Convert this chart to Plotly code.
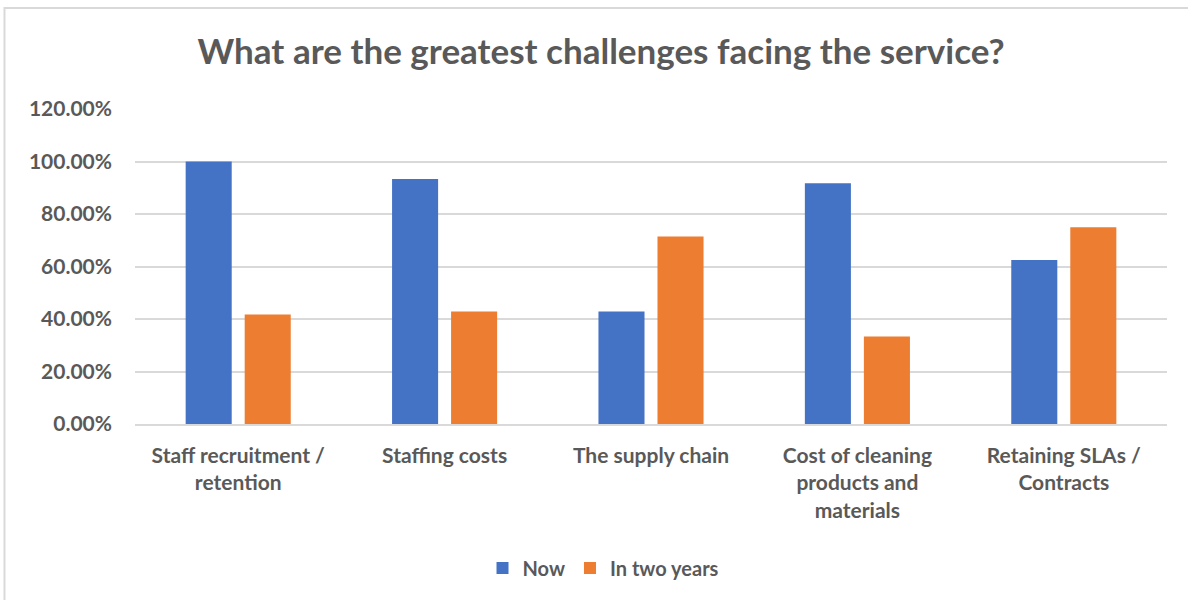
import plotly.graph_objects as go

categories = [
    "Staff recruitment /<br>retention",
    "Staffing costs",
    "The supply chain",
    "Cost of cleaning<br>products and<br>materials",
    "Retaining SLAs /<br>Contracts",
]
now_values = [1.0, 0.9333, 0.4286, 0.9167, 0.625]
two_years_values = [0.4167, 0.4286, 0.7143, 0.3333, 0.75]
y_ticks = [0, 0.2, 0.4, 0.6, 0.8, 1.0, 1.2]
y_tick_text = ["<b>%.2f%%</b>" % (v * 100) for v in y_ticks]
category_text = ["<b>%s</b>" % c.replace("<br>", "</b><br><b>") for c in categories]

FONT = "Lato, 'Open Sans', sans-serif"
GREY = "#595959"

fig = go.Figure()
fig.add_trace(go.Bar(name="<b>Now</b>", x=categories, y=now_values,
                     marker=dict(color="#4472C4", line=dict(width=0))))
fig.add_trace(go.Bar(name="<b>In two years</b>", x=categories, y=two_years_values,
                     marker=dict(color="#ED7D31", line=dict(width=0))))

fig.update_layout(
    width=1188, height=600,
    paper_bgcolor="white", plot_bgcolor="white",
    margin=dict(l=135, r=21, t=109, b=176),
    barmode="group", bargap=0.428, bargroupgap=0.22,
    font=dict(family=FONT, color=GREY),
    title=dict(text="<b>What are the greatest challenges facing the service?</b>",
               x=0.506, xanchor="center", y=1 - 52 / 600, yanchor="middle",
               xref="container", yref="container",
               font=dict(size=35, color=GREY, family=FONT)),
    legend=dict(orientation="h", x=0.508, xanchor="center", xref="container",
                y=1 - 568 / 600, yref="container", yanchor="middle",
                font=dict(size=20, color=GREY, family=FONT),
                itemwidth=30, traceorder="normal"),
    showlegend=True,
)
fig.update_yaxes(range=[0, 1.2], tickvals=y_ticks, ticktext=y_tick_text,
                 showgrid=True, gridcolor="#d9d9d9", gridwidth=1.5,
                 zeroline=False, showline=False, ticks="",
                 ticklabelstandoff=22,
                 tickfont=dict(size=21, color=GREY, family=FONT))
fig.update_xaxes(showline=True, linecolor="#d9d9d9", linewidth=1.5,
                 ticks="", ticklabelstandoff=12,
                 tickmode="array", tickvals=categories, ticktext=category_text,
                 tickfont=dict(size=21, color=GREY, family=FONT))

# chart frame (Excel chart area border)
fig.add_shape(type="rect", xref="paper", yref="paper",
              x0=(4.5 - 135) / 1032, x1=1.06, y0=-1.0, y1=(424 - 8) / 315,
              line=dict(color="#d9d9d9", width=2), fillcolor="rgba(0,0,0,0)",
              layer="below")

fig.write_html("out.html")
